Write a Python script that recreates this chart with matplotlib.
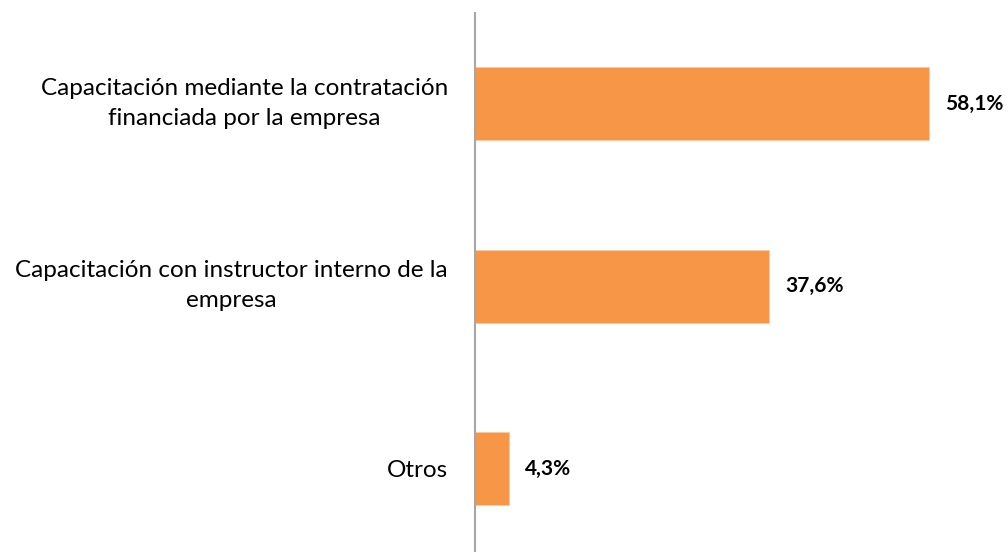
import matplotlib
matplotlib.use("Agg")
import matplotlib.pyplot as plt
from matplotlib.transforms import ScaledTranslation

categories = [
    "Capacitación mediante la contratación\nfinanciada por la empresa",
    "Capacitación con instructor interno de la\nempresa",
    "Otros",
]
values = [58.1, 37.6, 4.3]
value_labels = ["58,1%", "37,6%", "4,3%"]

plt.rcParams["font.family"] = ["Lato", "DejaVu Sans"]

W, H = 1008, 552
fig = plt.figure(figsize=(W / 100, H / 100), dpi=100)

# axes spans from the vertical baseline to the right edge
left_px, top_px, bottom_px = 475, 13, 552
px_per_unit = (929 - 475) / 58.1
right_px = 1000
ax = fig.add_axes([left_px / W, (H - bottom_px) / H,
                   (right_px - left_px) / W, (bottom_px - top_px) / H])
ax.set_xlim(0, (right_px - left_px) / px_per_unit)

spacing = 182.5
first_center = 103.5
ax.set_ylim(2 + (bottom_px - (first_center + 2 * spacing)) / spacing,
            -(first_center - top_px) / spacing)

pos = list(range(len(categories)))
ax.barh(pos, values, height=0.4, color="#F79646", edgecolor="#FBC9A0",
        linewidth=0.6, zorder=2)

for p, v, lab in zip(pos, values, value_labels):
    ax.text(v + 16 / px_per_unit, p, lab, va="center", ha="left",
            fontsize=15, fontweight="bold", color="#000000")

ax.set_yticks(pos)
ax.set_yticklabels(categories, fontsize=17.5, multialignment="center",
                   linespacing=1.55)
ax.tick_params(axis="y", length=0, pad=19.5)
ax.set_xticks([])

# nudge two-line labels up so the block sits centred on its bar
for lbl in ax.get_yticklabels():
    if "\n" in lbl.get_text():
        lbl.set_transform(lbl.get_transform()
                          + ScaledTranslation(0, 5 / 72, fig.dpi_scale_trans))

for s in ["top", "right", "bottom"]:
    ax.spines[s].set_visible(False)
ax.spines["left"].set_color("#A6A6A6")
ax.spines["left"].set_linewidth(1.5)

fig.savefig("out.png", dpi=100)
